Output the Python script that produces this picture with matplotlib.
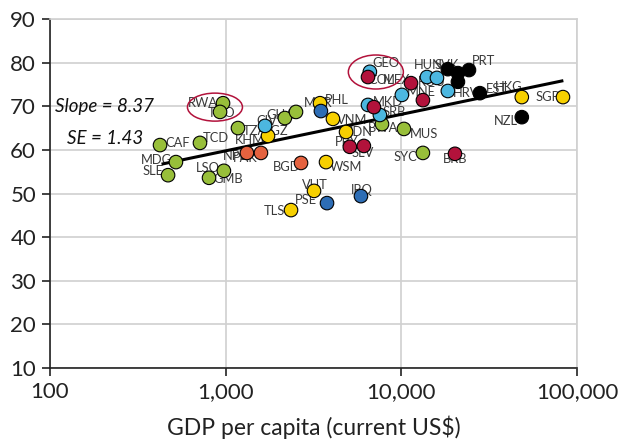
import numpy as np
import matplotlib
matplotlib.use("Agg")
import matplotlib.pyplot as plt
from matplotlib.patches import Ellipse
from matplotlib.transforms import ScaledTranslation

plt.rcParams['font.family'] = ['Lato', 'DejaVu Sans']

# data
codes = ["CAF", "MDG", "SLE", "TCD", "LSO", "GMB", "RWA", "TGO", "TZA", "CIV", "GHA", "BWA", "MUS", "SYC",
         "NPL", "PAK", "BGD",
         "KHM", "TLS", "VUT", "WSM", "PHL", "VNM", "IDN", "HKG", "SGP",
         "MAR", "PSE", "IRQ",
         "KGZ", "GEO", "MKD", "SRB", "MNE", "HUN", "ROU", "HRV",
         "COL", "PER", "PRY", "SLV", "MEX", "ARG", "BRB",
         "SVK", "POL", "PRT", "CZE", "EST", "NZL"]
gdp = [423, 521, 470, 714, 977, 804, 966, 929, 1175, 2173, 2514, 7760, 10350, 13270,
       1321, 1588, 2685,
       1742, 2355, 3184, 3726, 3444, 4080, 4845, 48500, 83200,
       3485, 3775, 5890,
       1675, 6620, 6460, 7550, 10070, 13990, 15950, 18400,
       6460, 6980, 5090, 6120, 11350, 13270, 20200,
       18400, 21000, 24270, 21000, 28000, 48500]
value = [61.1, 57.2, 54.2, 61.6, 55.2, 53.6, 70.7, 68.7, 65.0, 67.3, 68.7, 65.9, 64.8, 59.3,
         59.3, 59.3, 57.0,
         63.2, 46.2, 50.6, 57.2, 70.7, 67.1, 64.1, 72.1, 72.1,
         68.9, 47.8, 49.4,
         65.5, 77.9, 70.3, 68.0, 72.6, 76.7, 76.5, 73.5,
         76.7, 69.8, 60.7, 60.9, 75.3, 71.4, 59.1,
         78.5, 77.6, 78.3, 75.6, 73.0, 67.5]
region = (["SSA"] * 14 + ["SAS"] * 3 + ["EAP"] * 9 + ["MNA"] * 3 + ["ECA"] * 8
          + ["LAC"] * 7 + ["OECD"] * 6)

slope = 8.37
se = 1.43
intercept = 34.67
fit_x = [440, 82000]

region_colors = {"SSA": "#98bf3a", "SAS": "#e5623f", "EAP": "#f7d000", "MNA": "#2d6db5",
                 "ECA": "#4cb7e0", "LAC": "#b2123b", "OECD": "#000000"}

# label placement: (dx, dy in pixels, alignment); None = label hidden
label_pos = {
    "CAF": (5, 2, "left"), "MDG": (-4, 2, "right"), "SLE": (-5, 4, "right"),
    "TCD": (3, 5, "left"), "LSO": (-4, 3, "right"), "GMB": (4, -1, "left"),
    "RWA": (-5, 0, "right"), "TGO": (-12, -1, "left"), "TZA": (5, -3, "left"),
    "CIV": (-8, -3, "right"), "GHA": (-2, -3, "right"), "BWA": (1, -4, "center"),
    "MUS": (6, -5, "left"), "SYC": (-6, -4, "right"),
    "NPL": (0, -3, "right"), "PAK": (-3, -5, "right"), "BGD": (-1, -4, "right"),
    "KHM": (-3, -4, "right"), "TLS": (-6, -1, "right"), "VUT": (1, 6, "center"),
    "WSM": (4, -5, "left"), "PHL": (5, 3, "left"), "VNM": (4, -1, "left"),
    "IDN": (4, 0, "left"), "HKG": (1, 10, "right"), "SGP": (-3, 0, "right"),
    "MAR": (-3, 8, "center"), "PSE": (-10, 3, "right"), "IRQ": (1, 6, "center"),
    "KGZ": (-2, -5, "left"), "GEO": (3, 9, "left"), "MKD": (5, 3, "left"),
    "SRB": (3, 3, "left"), "MNE": (5, 3, "left"), "HUN": (1, 12, "center"),
    "ROU": (-5, -4, "center"),
    "HRV": (5, -2, "left"), "COL": (0, -3, "left"), "PER": None, "PRY": (-3, 5, "center"),
    "SLV": (-1, -7, "center"), "MEX": (-1, 3, "right"), "ARG": None, "BRB": (0, -5, "center"),
    "SVK": (-1, 4, "center"), "POL": None, "PRT": (3, 9, "left"), "CZE": None,
    "EST": (6, 4, "left"), "NZL": (-4, -4, "right"),
}

fig = plt.figure(figsize=(6.19, 4.42), dpi=100)
ax = fig.add_axes([50 / 619, 1 - 368 / 442, 527 / 619, 349 / 442])

ax.set_xscale('log')
ax.set_xlim(100, 100000)
ax.set_ylim(10, 90)

colors = [region_colors[r] for r in region]
ax.scatter(gdp, value, s=95, c=colors, edgecolors='black', linewidths=0.8, zorder=4)

# fitted line
fx = np.array(fit_x, dtype=float)
ax.plot(fx, intercept + slope * np.log10(fx), color='black', lw=2.2, zorder=3)

for code, x, y in zip(codes, gdp, value):
    pos = label_pos.get(code)
    if pos is None:
        continue
    dx, dy, ha = pos
    ax.annotate(code, (x, y), xytext=(dx, dy), textcoords='offset pixels',
                ha=ha, va='center', fontsize=9.3, color='#3a3a3a', zorder=2)

# circles around RWA/TGO and GEO/COL
for (cx, cy, w, h) in [(869, 69.8, 0.55, 0.28), (7160, 77.85, 0.55, 0.34)]:
    tr = fig.dpi_scale_trans + ScaledTranslation(cx, cy, ax.transData)
    ax.add_patch(Ellipse((0, 0), w, h, transform=tr, fill=False,
                         edgecolor='#b2123b', lw=1.1, zorder=5))

ax.text(0.0095, 0.748, "Slope = %.2f" % slope, transform=ax.transAxes, fontsize=13.5,
        style='italic', ha='left', va='center', color='#111111')
ax.text(0.032, 0.659, "SE = %.2f" % se, transform=ax.transAxes, fontsize=13.5,
        style='italic', ha='left', va='center', color='#111111')

ax.set_xticks([100, 1000, 10000, 100000])
ax.set_xticklabels(["100", "1,000", "10,000", "100,000"])
ax.minorticks_off()
ax.set_yticks(np.arange(10, 91, 10))

ax.grid(True, color='#d0d0d0', lw=1.2, zorder=0)
ax.set_axisbelow(True)
for s in ['left', 'bottom']:
    ax.spines[s].set_color('#222222')
    ax.spines[s].set_linewidth(1.2)
for s in ['right', 'top']:
    ax.spines[s].set_color('#d0d0d0')
    ax.spines[s].set_linewidth(1.2)
ax.tick_params(axis='both', direction='out', length=6, width=1.2, color='#222222',
               labelsize=16, labelcolor='#222222')
ax.tick_params(axis='y', pad=4)
ax.tick_params(axis='x', pad=4)
ax.set_xlabel("GDP per capita (current US$)", fontsize=16.5, color='#222222', labelpad=10)

fig.savefig("out.png", dpi=100)
